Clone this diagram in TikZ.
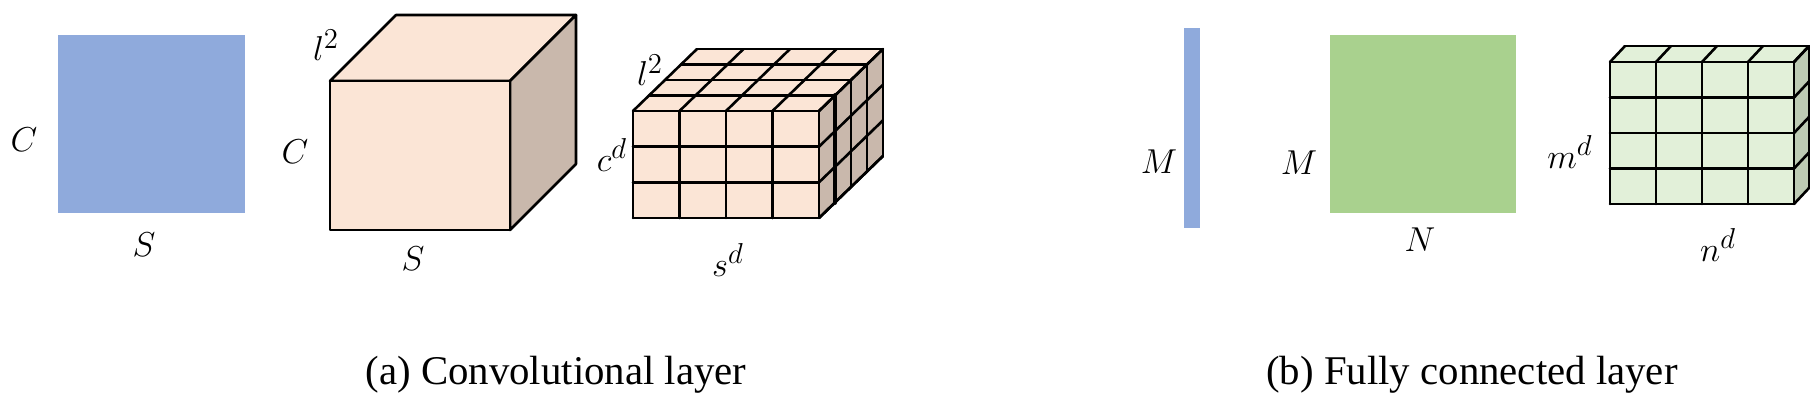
\documentclass[tikz,border=0pt]{standalone}
\usepackage{fontspec}
\newfontfamily\capfont{Liberation Serif}
\definecolor{blueA}{HTML}{8FAADC}
\definecolor{greenA}{HTML}{A9D18E}
\definecolor{peach}{HTML}{FBE5D6}
\definecolor{peachside}{HTML}{C9B8AC}
\definecolor{mint}{HTML}{E2F0D9}
\definecolor{mintside}{HTML}{BDCBB4}
\begin{document}
\begin{tikzpicture}[x=0.5pt,y=-0.5pt,
  lbl/.style={inner sep=0pt,font=\fontsize{19}{22}\selectfont},
  captxt/.style={inner sep=0pt,anchor=base,font=\capfont\fontsize{20.4}{24}\selectfont},
  edge/.style={line width=1.3pt,line join=round,line cap=round}]
\useasboundingbox (0,0) rectangle (1810,416);
% ---------- (a) ----------
\fill[blueA] (58,35) rectangle (245,213);
\node[lbl] (cA) at (24,140) {$C$};
\node[lbl] (sA) at (144,245) {$S$};
% solid cube
\filldraw[edge,fill=peach] (330,81) -- (396,15) -- (576,15) -- (510,81) -- cycle;
\filldraw[edge,fill=peachside] (510,81) -- (576,15) -- (576,164) -- (510,230) -- cycle;
\filldraw[edge,fill=peach] (330,81) rectangle (510,230);
\node[lbl] (lB) at (326,45) {$l^2$};
\node[lbl] (cB) at (295,152) {$C$};
\node[lbl] (sB) at (413,259) {$S$};
% grid cube 4 x 3 x 4
\fill[peach] (633,111) -- (697,49) -- (883,49) -- (819,111) -- cycle;
\fill[peachside] (819,111) -- (883,49) -- (883,156) -- (819,218) -- cycle;
\fill[peach] (633,111) rectangle (819,218);
\foreach \i in {0,...,4}{
  \draw[edge] (633+\i*46.5,111) -- (633+\i*46.5,218);
  \draw[edge] (633+\i*46.5,111) -- ++(64,-62);
}
\foreach \k in {0,...,3}{
  \draw[edge] (633,111+\k*35.667) -- (819,111+\k*35.667);
  \draw[edge] (819,111+\k*35.667) -- ++(64,-62);
}
\foreach \j in {1,...,4}{
  \draw[edge] (633+\j*16,111-\j*15.5) -- (819+\j*16,111-\j*15.5);
}
\foreach \j in {2,3,4}{
  \draw[edge] (819+\j*16,111-\j*15.5) -- ++(0,107);
}
\draw[edge,line width=2.4pt] (835,95.5) -- ++(0,107);
\draw[edge] (819,218) -- (883,156);
\node[lbl] (lC) at (650,70) {$l^2$};
\node[lbl] (cC) at (612,155) {$c^d$};
\node[lbl] (sC) at (728,260) {$s^d$};
\node[captxt] (capA) at (556,385) {(a) Convolutional layer};
% ---------- (b) ----------
\fill[blueA] (1184,28) rectangle (1200,228);
\node[lbl] (mD) at (1159,162) {$M$};
\fill[greenA] (1330,35) rectangle (1516,213);
\node[lbl] (mE) at (1299,163) {$M$};
\node[lbl] (nE) at (1420,240) {$N$};
% grid 4 x 4 x 1
\fill[mint] (1610,62) -- (1625,46) -- (1809,46) -- (1794,62) -- cycle;
\fill[mintside] (1794,62) -- (1809,46) -- (1809,188) -- (1794,204) -- cycle;
\fill[mint] (1610,62) rectangle (1794,204);
\foreach \i in {0,...,4}{
  \draw[edge] (1610+\i*46,62) -- (1610+\i*46,204);
  \draw[edge] (1610+\i*46,62) -- ++(15,-16);
}
\foreach \k in {0,...,4}{
  \draw[edge] (1610,62+\k*35.5) -- (1794,62+\k*35.5);
  \draw[edge] (1794,62+\k*35.5) -- ++(15,-16);
}
\draw[edge] (1625,46) -- (1809,46) -- (1809,188);
\node[lbl] (mF) at (1570,152) {$m^d$};
\node[lbl] (nF) at (1718,245) {$n^d$};
\node[captxt] (capB) at (1472,385) {(b) Fully connected layer};
\end{tikzpicture}
\end{document}
